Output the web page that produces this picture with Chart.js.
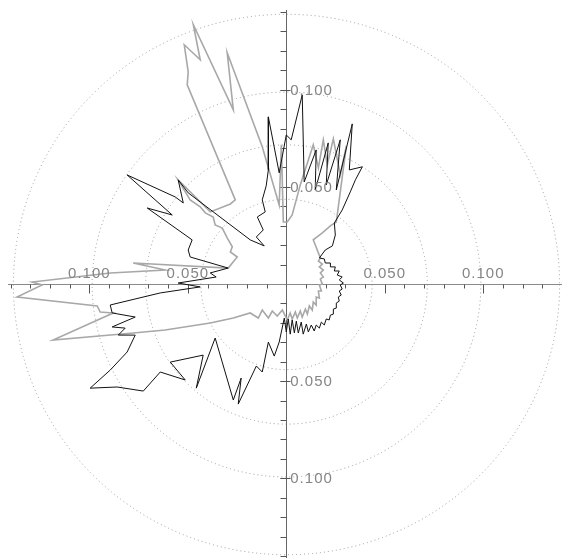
<!DOCTYPE html>
<html>
<head>
<meta charset="utf-8">
<script src="https://cdn.jsdelivr.net/npm/chart.js@4"></script>
<style>
  html, body { margin: 0; padding: 0; background: #fff; }
  #wrap { width: 562px; height: 558px; position: relative; }
</style>
</head>
<body>
<div id="wrap"><canvas id="chart"></canvas></div>
<script>
// black trace, x / y components of the polar curve
const blackX = [-0.0010, 0.0000, 0.0010, 0.0020, 0.0030, 0.0041, 0.0051, 0.0061, 0.0076, 0.0086,
	0.0102, 0.0112, 0.0127, 0.0142, 0.0152, 0.0168, 0.0178, 0.0193, 0.0203, 0.0218,
	0.0224, 0.0239, 0.0239, 0.0254, 0.0254, 0.0269, 0.0264, 0.0279, 0.0269, 0.0284,
	0.0274, 0.0290, 0.0269, 0.0284, 0.0259, 0.0269, 0.0244, 0.0249, 0.0224, 0.0224,
	0.0198, 0.0193, 0.0168,
	0.0198, 0.0234, 0.0249, 0.0244, 0.0284, 0.0325, 0.0351,
	0.0386, 0.0320, 0.0335, 0.0254, 0.0274, 0.0203, 0.0213, 0.0147, 0.0152, 0.0091,
	0.0081, 0.0025, 0.0000, -0.0036, -0.0091, -0.0091, -0.0102, -0.0122, -0.0107, -0.0147,
	-0.0117, -0.0152, -0.0112, -0.0183, -0.0498, -0.0549, -0.0523, -0.0564, -0.0808, -0.0579,
	-0.0706, -0.0478, -0.0498, -0.0488, -0.0295, -0.0386, -0.0356, -0.0549, -0.0437, -0.0640,
	-0.0894, -0.0884, -0.0767, -0.0884, -0.0818, -0.0853, -0.0767, -0.0808, -0.0894, -0.0996,
	-0.0859, -0.0726, -0.0640, -0.0513, -0.0589, -0.0422, -0.0457, -0.0361, -0.0269, -0.0229,
	-0.0244, -0.0152, -0.0122, -0.0091, -0.0061, -0.0036, -0.0010];
const blackY = [-0.0175, -0.0247, -0.0180, -0.0258, -0.0185, -0.0252, -0.0191, -0.0252, -0.0196, -0.0258,
	-0.0206, -0.0247, -0.0211, -0.0242, -0.0211, -0.0227, -0.0196, -0.0211, -0.0180, -0.0185,
	-0.0160, -0.0155, -0.0129, -0.0124, -0.0098, -0.0088, -0.0067, -0.0057, -0.0036, -0.0026,
	-0.0005, 0.0005, 0.0021, 0.0036, 0.0046, 0.0067, 0.0067, 0.0088, 0.0088, 0.0108,
	0.0108, 0.0129, 0.0134,
	0.0175, 0.0196, 0.0252, 0.0314, 0.0381, 0.0474, 0.0536,
	0.0603, 0.0587, 0.0824, 0.0484, 0.0742, 0.0510, 0.0726, 0.0484, 0.0690, 0.0525,
	0.0973, 0.0742, 0.0767, 0.0572, 0.0860, 0.0587, 0.0505, 0.0433, 0.0371, 0.0345,
	0.0278, 0.0242, 0.0196, 0.0227, 0.0469, 0.0536, 0.0417, 0.0448, 0.0561, 0.0355,
	0.0391, 0.0227, 0.0175, 0.0139, 0.0082, 0.0057, 0.0036, 0.0005, -0.0015, -0.0046,
	-0.0108, -0.0149, -0.0170, -0.0221, -0.0227, -0.0263, -0.0263, -0.0350, -0.0443, -0.0536,
	-0.0530, -0.0551, -0.0453, -0.0494, -0.0402, -0.0366, -0.0536, -0.0278, -0.0597, -0.0484,
	-0.0618, -0.0422, -0.0453, -0.0299, -0.0371, -0.0299, -0.0175];

// gray trace
const grayX = [0.0005, 0.0020, 0.0030, 0.0046, 0.0056, 0.0071, 0.0081, 0.0097, 0.0107, 0.0117,
	0.0132, 0.0137, 0.0152, 0.0152, 0.0168, 0.0163, 0.0178, 0.0168, 0.0183, 0.0173,
	0.0188, 0.0173, 0.0188, 0.0168, 0.0183, 0.0163, 0.0173,
	0.0137, 0.0183, 0.0224, 0.0254, 0.0305, 0.0274, 0.0239, 0.0208, 0.0188, 0.0163, 0.0137,
	0.0071, 0.0030, 0.0005, -0.0015, -0.0025, -0.0036, -0.0122, -0.0300, -0.0269, -0.0472,
	-0.0437, -0.0518, -0.0498, -0.0503, -0.0259, -0.0284, -0.0386, -0.0549, -0.0488, -0.0437,
	-0.0411, -0.0371, -0.0361, -0.0325, -0.0300, -0.0274, -0.0284, -0.0249, -0.0295, -0.0777,
	-0.0615, -0.0894, -0.1290, -0.1240, -0.1367, -0.0960, -0.0945, -0.0879, -0.1184, -0.0777,
	-0.0615, -0.0386, -0.0269, -0.0183, -0.0142, -0.0122, -0.0091, -0.0071, -0.0046, -0.0020,
	0.0005];
const grayY = [-0.0185, -0.0149, -0.0180, -0.0144, -0.0175, -0.0139, -0.0170, -0.0129, -0.0155, -0.0113,
	-0.0134, -0.0093, -0.0108, -0.0067, -0.0072, -0.0036, -0.0036, -0.0005, 0.0000, 0.0026,
	0.0036, 0.0057, 0.0072, 0.0088, 0.0103, 0.0118, 0.0134,
	0.0227, 0.0263, 0.0299, 0.0319, 0.0711, 0.0561, 0.0747, 0.0613, 0.0742, 0.0597, 0.0716,
	0.0510, 0.0355, 0.0319, 0.0319, 0.0716, 0.0407, 0.0706, 0.1190, 0.0896, 0.1334,
	0.1154, 0.1231, 0.1092, 0.1025, 0.0433, 0.0412, 0.0371, 0.0536, 0.0433, 0.0397,
	0.0366, 0.0345, 0.0304, 0.0288, 0.0237, 0.0191, 0.0165, 0.0139, 0.0082, 0.0108,
	0.0072, 0.0057, 0.0010, -0.0005, -0.0067, -0.0113, -0.0144, -0.0149, -0.0288, -0.0252,
	-0.0237, -0.0201, -0.0175, -0.0149, -0.0175, -0.0134, -0.0175, -0.0139, -0.0165, -0.0134,
	-0.0185];

// dotted range rings and axis labels
const ringRadii = [0.0436, 0.0716, 0.0988, 0.1388];
const majorTicks = [-0.1, -0.05, 0.05, 0.1];
const majorLabels = ["0.100", "0.050", "0.050", "0.100"];

const toPoints = (xs, ys) => xs.map((x, i) => ({ x, y: ys[i] }));

/**
 * Draws the polar frame: dotted rings, crossing axes with ticks, labels
 */
const polarFrame = {
	id: "polarFrame",
	beforeDatasetsDraw(chart) {
		const { ctx, chartArea: area, scales: { x, y } } = chart;
		const cx = Math.round(x.getPixelForValue(0)) + 0.5;
		const cy = Math.round(y.getPixelForValue(0)) + 0.5;
		ctx.save();

		ctx.strokeStyle = "#9a9a9a";
		ctx.lineWidth = 1;
		ctx.setLineDash([1, 3]);
		ringRadii.forEach((r) => {
			ctx.beginPath();
			ctx.ellipse(cx, cy, x.getPixelForValue(r) - cx, cy - y.getPixelForValue(r), 0, 0, Math.PI * 2);
			ctx.stroke();
		});
		ctx.setLineDash([]);

		ctx.strokeStyle = "#8a8a8a";
		ctx.beginPath();
		ctx.moveTo(area.left, cy);
		ctx.lineTo(area.right, cy);
		ctx.stroke();
		ctx.strokeStyle = "#666";
		ctx.beginPath();
		ctx.moveTo(cx, area.top);
		ctx.lineTo(cx, area.bottom);
		ctx.stroke();

		ctx.strokeStyle = "#555";
		for (let i = -14; i <= 14; i++) {
			if (i === 0) continue;
			const v = i / 100;
			const major = i % 5 === 0;
			const px = Math.round(x.getPixelForValue(v)) + 0.5;
			const py = Math.round(y.getPixelForValue(v)) + 0.5;
			ctx.beginPath();
			ctx.moveTo(px, cy);
			ctx.lineTo(px, cy + (major ? 9 : 4));
			ctx.moveTo(cx, py);
			ctx.lineTo(cx - 6, py);
			if (major) ctx.lineTo(cx + 4, py);
			ctx.stroke();
		}
		ctx.restore();
	},
	afterDatasetsDraw(chart) {
		const { ctx, scales: { x, y } } = chart;
		const cx = x.getPixelForValue(0);
		const cy = y.getPixelForValue(0);
		ctx.save();
		ctx.font = '15px "Liberation Sans", Arial, sans-serif';
		ctx.letterSpacing = "1px";
		ctx.fillStyle = "#858585";
		majorTicks.forEach((v, i) => {
			ctx.textAlign = "center";
			ctx.textBaseline = "alphabetic";
			ctx.fillText(majorLabels[i], x.getPixelForValue(v), cy - 6);
			ctx.textAlign = "left";
			ctx.textBaseline = "middle";
			ctx.fillText(majorLabels[i], cx + 4, y.getPixelForValue(v) + 1);
		});
		ctx.restore();
	},
};

const ctx = document.getElementById("chart").getContext("2d");
new Chart(ctx, {
	type: "scatter",
	data: {
		datasets: [
			{
				data: toPoints(blackX, blackY),
				showLine: true,
				borderColor: "#111",
				borderWidth: 1,
				pointRadius: 0,
				tension: 0,
				order: 0,
			},
			{
				data: toPoints(grayX, grayY),
				showLine: true,
				borderColor: "#a8a8a8",
				borderWidth: 1.6,
				pointRadius: 0,
				tension: 0,
				order: 1,
			},
		],
	},
	options: {
		responsive: true,
		maintainAspectRatio: false,
		animation: false,
		layout: { padding: { left: 8, top: 10, right: 0, bottom: 0 } },
		plugins: { legend: { display: false }, tooltip: { enabled: false } },
		scales: {
			x: { type: "linear", min: -0.1413, max: 0.14, display: false },
			y: { type: "linear", min: -0.141, max: 0.141, display: false },
		},
	},
	plugins: [polarFrame],
});
</script>
</body>
</html>
